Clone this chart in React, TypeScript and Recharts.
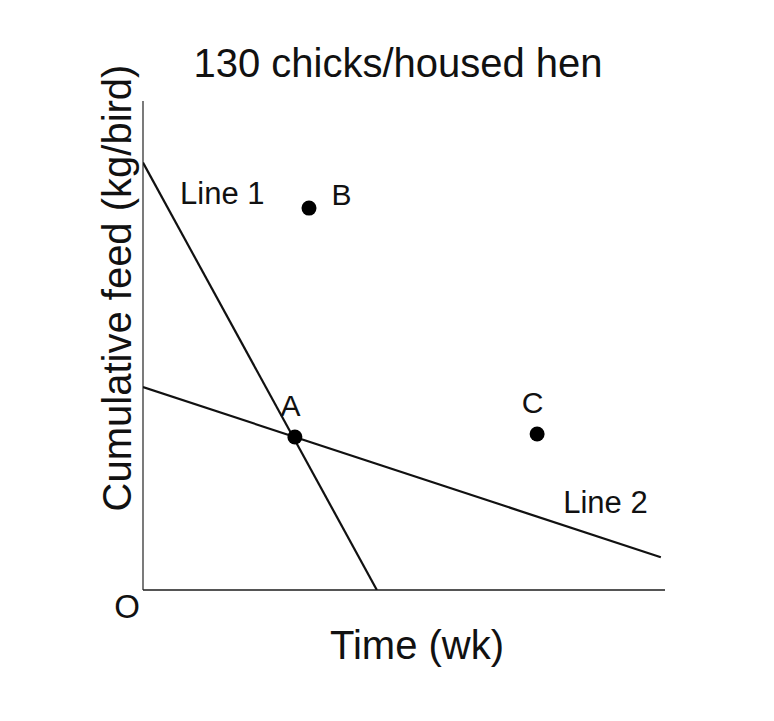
import React from "react";
import {
  ComposedChart, Scatter, XAxis, YAxis, Label, LabelList,
} from "recharts";

// axes run 0..100 in both directions (no ticks shown)
const LINE_1 = [
  { x: 0, y: 87.4 },
  { x: 44.8, y: 0 },
];
const LINE_2 = [
  { x: 0, y: 41.5 },
  { x: 99.2, y: 6.7 },
];
const POINTS = [
  { x: 29.1, y: 31.3, name: "A" },
  { x: 31.8, y: 78.1, name: "B" },
  { x: 75.5, y: 31.9, name: "C" },
];
const NOTES = [
  { x: 7.1, y: 78.9, text: "Line 1", anchor: "start" },
  { x: 80.5, y: 15.7, text: "Line 2", anchor: "start" },
];
const TITLE = "130 chicks/housed hen";
const X_LABEL = "Time (wk)";
const Y_LABEL = "Cumulative feed (kg/bird)";
const ORIGIN = "O";

const FONT = "'Liberation Sans', Arial, sans-serif";
const INK = "#111";

const noDot = () => <g />;

const pointLabel = (props: any) => {
  const { x, y, index } = props;
  const p = POINTS[index];
  if (!p) return null;
  // B sits to the right of its dot, A and C above
  const right = p.name === "B";
  return (
    <text
      x={right ? x + 27 : x}
      y={right ? y + 1 : y - 16}
      textAnchor={right ? "start" : "middle"}
      fontFamily={FONT}
      fontSize={30}
      fill={INK}
    >
      {p.name}
    </text>
  );
};

const noteShape = (props: any) => {
  const { cx, cy, payload } = props;
  return (
    <text x={cx} y={cy} textAnchor={payload.anchor} fontFamily={FONT} fontSize={31} fill={INK}>
      {payload.text}
    </text>
  );
};

export default function App() {
  return (
    <div style={{ position: "absolute", left: 0, top: 0, width: 774, height: 721, background: "#fff" }}>
      <div
        style={{
          position: "absolute", left: 0, width: 796, top: 40, textAlign: "center",
          fontFamily: FONT, fontSize: 40, lineHeight: "46px", color: INK,
        }}
      >
        {TITLE}
      </div>
      <ComposedChart
        width={774}
        height={721}
        margin={{ top: 101, right: 109, bottom: 130, left: 142 }}
      >
        <XAxis
          type="number"
          dataKey="x"
          domain={[0, 100]}
          allowDataOverflow
          height={1}
          tick={false}
          tickLine={false}
          axisLine={{ stroke: "#555", strokeWidth: 2 }}
        >
          <Label
            content={(p: any) => (
              <g>
                <text x={p.viewBox.x + 274} y={p.viewBox.y + 69} textAnchor="middle" fontFamily={FONT} fontSize={40} fill={INK}>
                  {X_LABEL}
                </text>
                <text x={p.viewBox.x - 16} y={p.viewBox.y + 28} textAnchor="middle" fontFamily={FONT} fontSize={33} fill={INK}>
                  {ORIGIN}
                </text>
              </g>
            )}
          />
        </XAxis>
        <YAxis
          type="number"
          dataKey="y"
          domain={[0, 100]}
          allowDataOverflow
          width={1}
          tick={false}
          tickLine={false}
          axisLine={{ stroke: "#222", strokeWidth: 1.2 }}
        >
          <Label
            content={(p: any) => {
              const cx = p.viewBox.x - 11;
              const cy = p.viewBox.y + 187;
              return (
                <text
                  x={cx}
                  y={cy}
                  transform={`rotate(-90 ${cx} ${cy})`}
                  textAnchor="middle"
                  fontFamily={FONT}
                  fontSize={40}
                  fill={INK}
                >
                  {Y_LABEL}
                </text>
              );
            }}
          />
        </YAxis>
        <Scatter
          data={LINE_1}
          line={{ stroke: "#111", strokeWidth: 2.2 }}
          lineType="joint"
          shape={noDot}
          isAnimationActive={false}
        />
        <Scatter
          data={LINE_2}
          line={{ stroke: "#111", strokeWidth: 2.2 }}
          lineType="joint"
          shape={noDot}
          isAnimationActive={false}
        />
        <Scatter data={POINTS} fill="#000" shape={(p: any) => <circle cx={p.cx} cy={p.cy} r={7.5} fill="#000" />} isAnimationActive={false}>
          <LabelList dataKey="name" content={pointLabel} />
        </Scatter>
        <Scatter data={NOTES} shape={noteShape} isAnimationActive={false} />
      </ComposedChart>
    </div>
  );
}
